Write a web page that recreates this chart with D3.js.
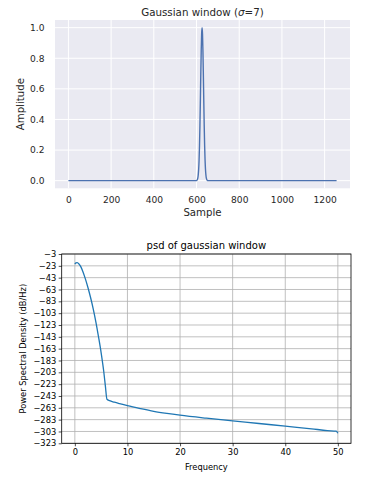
<!DOCTYPE html>
<html>
<head>
<meta charset="utf-8">
<script src="https://cdn.jsdelivr.net/npm/d3@7"></script>
<style>
  html, body { margin: 0; padding: 0; background: #ffffff; }
  svg { display: block; font-family: "DejaVu Sans", sans-serif; }
</style>
</head>
<body>
<svg id="chart" width="381" height="479"></svg>
<script>
// ---------- Top panel data: Gaussian window (sigma = 7) ----------
const windowSamples = [0, 590, 598, 602, 606, 608, 610, 612, 614, 616, 618, 620, 622, 624, 626,
  628, 630, 632, 634, 636, 638, 640, 642, 644, 646, 650, 654, 662, 1256];
const windowAmplitude = [0, 0, 0.0003, 0.0028, 0.017, 0.037, 0.073, 0.135, 0.230, 0.360, 0.520, 0.693, 0.849, 0.960, 1.000,
  0.960, 0.849, 0.693, 0.520, 0.360, 0.230, 0.135, 0.073, 0.037, 0.017, 0.0028, 0.0003, 0, 0];
const topXTicks = [0, 200, 400, 600, 800, 1000, 1200];
const topYTicks = [0.0, 0.2, 0.4, 0.6, 0.8, 1.0];
const topTitleParts = ["Gaussian window (", "σ", "=7)"];
const topXLabel = "Sample";
const topYLabel = "Amplitude";

// ---------- Bottom panel data: PSD of gaussian window ----------
const psdFreq = [0, 0.2, 0.45, 0.8, 1.1, 1.5, 2.0, 2.5, 3.0, 3.5, 4.0, 4.5, 5.0, 5.5, 5.8, 6.1,
  6.6, 7.5, 8.5, 10, 12.5, 15, 17.5, 20, 25, 30, 35, 40, 45, 48, 49.7, 50];
const psdDb = [-20, -18, -17.5, -20, -24, -32, -45, -60, -77, -96, -118, -143, -170, -202, -226, -248.5,
  -251, -253.5, -256, -259.5, -264.5, -269, -272.5, -275.5, -280.5, -285, -289.5, -294, -298.5, -301.5, -302.5, -306];
const psdXTicks = [0, 10, 20, 30, 40, 50];
const psdYTicks = [-3, -23, -43, -63, -83, -103, -123, -143, -163, -183, -203, -223, -243, -263, -283, -303, -323];
const psdTitle = "psd of gaussian window";
const psdXLabel = "Frequency";
const psdYLabel = "Power Spectral Density (dB/Hz)";

const svg = d3.select("#chart");
const fmtMinus = v => String(v).replace("-", "\u2212");

// ================= TOP PANEL (seaborn darkgrid look) =================
{
  const L = 55, R = 350, T = 20, B = 188.3;
  const n = windowSamples[windowSamples.length - 1];
  const x = d3.scaleLinear().domain([-0.05 * n, 1.05 * n]).range([L, R]);
  const y = d3.scaleLinear().domain([-0.05, 1.05]).range([B, T]);
  const g = svg.append("g");
  g.append("rect").attr("x", L).attr("y", T).attr("width", R - L).attr("height", B - T).attr("fill", "#eaeaf2");

  // grid
  g.append("g").selectAll("line").data(topXTicks).join("line")
    .attr("x1", d => x(d)).attr("x2", d => x(d)).attr("y1", T).attr("y2", B)
    .attr("stroke", "#ffffff").attr("stroke-width", 1);
  g.append("g").selectAll("line").data(topYTicks).join("line")
    .attr("x1", L).attr("x2", R).attr("y1", d => y(d)).attr("y2", d => y(d))
    .attr("stroke", "#ffffff").attr("stroke-width", 1);

  // axes (no domain, no tick marks)
  const xAxis = g.append("g").attr("transform", `translate(0,${B})`)
    .call(d3.axisBottom(x).tickValues(topXTicks).tickSize(0).tickPadding(8).tickFormat(d3.format("d")));
  const yAxis = g.append("g").attr("transform", `translate(${L},0)`)
    .call(d3.axisLeft(y).tickValues(topYTicks).tickSize(0).tickPadding(10.5).tickFormat(d3.format(".1f")));
  [xAxis, yAxis].forEach(a => {
    a.select(".domain").remove();
    a.selectAll("text").attr("fill", "#262626").style("font-size", "9.1px").style("font-family", "DejaVu Sans");
  });

  const line = d3.line().x((d, i) => x(windowSamples[i])).y(d => y(d)).curve(d3.curveMonotoneX);
  g.append("path").datum(windowAmplitude).attr("d", line)
    .attr("fill", "none").attr("stroke", "#4c72b0").attr("stroke-width", 1.4);

  const title = g.append("text").attr("x", (L + R) / 2).attr("y", 15.5).attr("text-anchor", "middle")
    .attr("fill", "#262626").style("font-size", "10.3px");
  title.append("tspan").text(topTitleParts[0]);
  title.append("tspan").style("font-style", "italic").text(topTitleParts[1]);
  title.append("tspan").text(topTitleParts[2]);
  g.append("text").attr("x", (L + R) / 2).attr("y", 215.5).attr("text-anchor", "middle")
    .attr("fill", "#262626").style("font-size", "10.2px").text(topXLabel);
  g.append("text").attr("transform", `translate(23.5,${(T + B) / 2}) rotate(-90)`).attr("text-anchor", "middle")
    .attr("fill", "#262626").style("font-size", "10.2px").text(topYLabel);
}

// ================= BOTTOM PANEL (matplotlib default look) =================
{
  const L = 61.7, R = 351, T = 254, B = 443.3;
  const x = d3.scaleLinear().domain([-2.5, 52.5]).range([L, R]);
  const y = d3.scaleLinear().domain([-323, -3]).range([B, T]);
  const g = svg.append("g");

  // grid
  g.append("g").selectAll("line").data(psdXTicks).join("line")
    .attr("x1", d => x(d)).attr("x2", d => x(d)).attr("y1", T).attr("y2", B)
    .attr("stroke", "#b0b0b0").attr("stroke-width", 0.8);
  g.append("g").selectAll("line").data(psdYTicks).join("line")
    .attr("x1", L).attr("x2", R).attr("y1", d => y(d)).attr("y2", d => y(d))
    .attr("stroke", "#b0b0b0").attr("stroke-width", 0.8);

  const line = d3.line().x((d, i) => x(psdFreq[i])).y(d => y(d)).curve(d3.curveMonotoneX);
  g.append("path").datum(psdDb).attr("d", line)
    .attr("fill", "none").attr("stroke", "#1f77b4").attr("stroke-width", 1.3);

  const xAxis = g.append("g").attr("transform", `translate(0,${B})`)
    .call(d3.axisBottom(x).tickValues(psdXTicks).tickSize(3).tickPadding(2.5).tickFormat(d3.format("d")));
  const yAxis = g.append("g").attr("transform", `translate(${L},0)`)
    .call(d3.axisLeft(y).tickValues(psdYTicks).tickSize(3).tickPadding(2.5).tickFormat(fmtMinus));
  [xAxis, yAxis].forEach(a => {
    a.select(".domain").remove();
    a.selectAll("line").attr("stroke", "#000").attr("stroke-width", 0.7);
    a.selectAll("text").attr("fill", "#000").style("font-size", "8.3px").style("font-family", "DejaVu Sans");
  });

  // spines
  g.append("rect").attr("x", L).attr("y", T).attr("width", R - L).attr("height", B - T)
    .attr("fill", "none").attr("stroke", "#000").attr("stroke-width", 0.8);

  g.append("text").attr("x", (L + R) / 2).attr("y", 248.5).attr("text-anchor", "middle")
    .attr("fill", "#000").style("font-size", "10px").text(psdTitle);
  g.append("text").attr("x", (L + R) / 2).attr("y", 470).attr("text-anchor", "middle")
    .attr("fill", "#000").style("font-size", "8.3px").text(psdXLabel);
  g.append("text").attr("transform", `translate(25.5,${(T + B) / 2}) rotate(-90)`).attr("text-anchor", "middle")
    .attr("fill", "#000").style("font-size", "8.3px").text(psdYLabel);
}
</script>
</body>
</html>
